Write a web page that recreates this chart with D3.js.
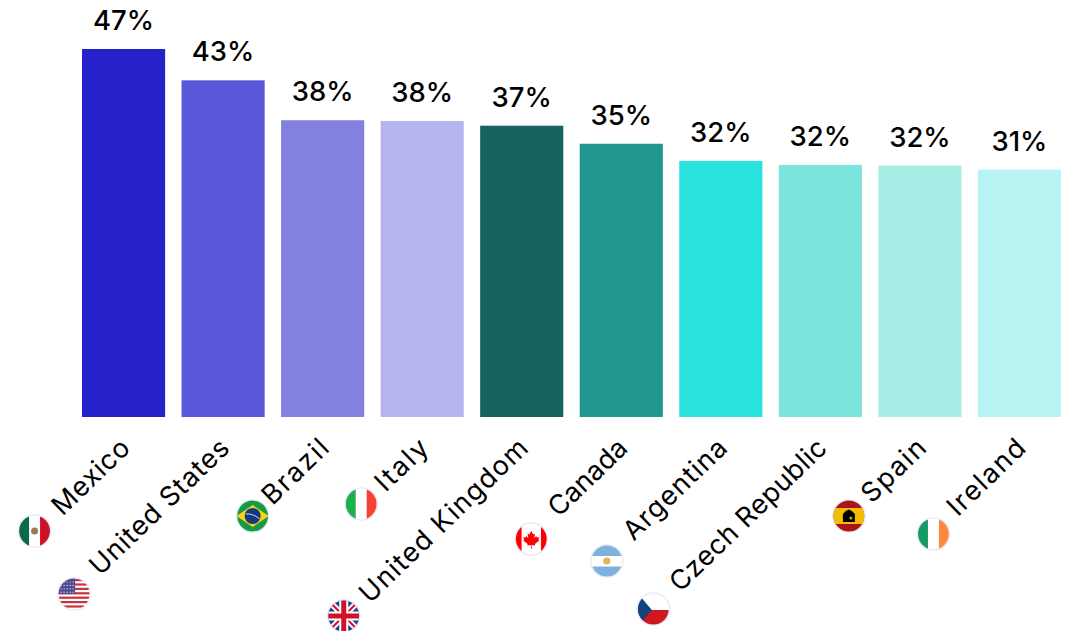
<!DOCTYPE html>
<html><head><meta charset="utf-8">
<script src="https://cdn.jsdelivr.net/npm/d3@7"></script>
<style>html,body{margin:0;padding:0;background:#fff}svg{display:block}text{font-family:Inter,"DejaVu Sans",sans-serif;fill:#000}</style>
</head><body><svg id="c" width="1068" height="631"></svg>
<script>
const countries = ["Mexico","United States","Brazil","Italy","United Kingdom","Canada","Argentina","Czech Republic","Spain","Ireland"];
const values = [47,43,37.9,37.8,37.2,34.9,32.7,32.2,32.1,31.6];
const valueLabels = ["47%","43%","38%","38%","37%","35%","32%","32%","32%","31%"];
const colors = ["#2522cc","#5757d8","#8380e0","#b5b4ee","#14635e","#209890","#2ae2de","#7ce4dc","#a8ece6","#b8f4f4"];
// Layout: flag-centre offset from each bar's centre, and the label's rendered length
const flagDx = [-89,-149,-70,-61,-178,-90,-114,-167,-71,-86];
const flagDy = [114,177,99,87,199,122,144,192,99,117];
const labelLen = [96,182,81,62,222,98,132,206,78,97];

const svg = d3.select("#c");
const x = d3.scaleBand().domain(countries).range([82,1061]).paddingInner(0.165).paddingOuter(0);
const y = d3.scaleLinear().domain([0,47]).range([417,49]);
const defs = svg.append("defs");
defs.append("clipPath").attr("id","flagClip").append("circle").attr("r",15.4);

svg.selectAll("rect.bar").data(countries).join("rect").attr("class","bar")
  .attr("x",d=>x(d)).attr("width",x.bandwidth())
  .attr("y",(d,i)=>y(values[i])).attr("height",(d,i)=>y(0)-y(values[i]))
  .attr("fill",(d,i)=>colors[i]);

svg.selectAll("text.val").data(countries).join("text").attr("class","val")
  .attr("x",d=>x(d)+x.bandwidth()/2).attr("y",(d,i)=>y(values[i])-19)
  .attr("text-anchor","middle").attr("font-size",27.5).attr("font-weight",500)
  .text((d,i)=>valueLabels[i]);

svg.selectAll("text.cat").data(countries).join("text").attr("class","cat")
  .attr("text-anchor","end").attr("font-size",27).attr("font-weight",400)
  .attr("textLength",(d,i)=>labelLen[i]).attr("lengthAdjust","spacing")
  .attr("transform",d=>`translate(${x(d)+x.bandwidth()/2+8},${450}) rotate(-44)`)
  .text(d=>d);

function rect(g,a,b,w,h,f){g.append("rect").attr("x",a).attr("y",b).attr("width",w).attr("height",h).attr("fill",f);}
function poly(g,p,f){g.append("polygon").attr("points",p).attr("fill",f);}
const draw = {
  "Mexico":g=>{rect(g,-16,-16,10.5,32,"#0b6b47");rect(g,5.5,-16,10.5,32,"#ce1126");g.append("circle").attr("r",3.5).attr("fill","#9a7a50");},
  "United States":g=>{rect(g,-16,-16,32,32,"#fff");d3.range(7).forEach(i=>rect(g,-16,-15+i*4.4,32,2.2,"#c8313f"));rect(g,-16,-16,17,16,"#4a4a8f");
    d3.range(4).forEach(r=>d3.range(5).forEach(c=>g.append("circle").attr("cx",-13+c*3).attr("cy",-12+r*3.4).attr("r",.6).attr("fill","#fff")));},
  "Brazil":g=>{rect(g,-16,-16,32,32,"#169b45");poly(g,"-16,0 0,-11 16,0 0,11","#fcd116");g.append("circle").attr("r",8).attr("fill","#14397f");g.append("path").attr("d","M-7,-2Q0,-3 7,3").attr("fill","none").attr("stroke","#cfe0d6").attr("stroke-width",1);},
  "Italy":g=>{rect(g,-16,-16,10.5,32,"#1eb04a");rect(g,5.5,-16,10.5,32,"#f44336");},
  "United Kingdom":g=>{rect(g,-16,-16,32,32,"#1b3f8b");
    g.append("path").attr("d","M-16,-16L16,16M16,-16L-16,16").attr("stroke","#fff").attr("stroke-width",6);
    g.append("path").attr("d","M-16,-16L16,16M16,-16L-16,16").attr("stroke","#d0112b").attr("stroke-width",2);
    rect(g,-16,-4.5,32,9,"#fff");rect(g,-4.5,-16,9,32,"#fff");rect(g,-16,-2.5,32,5,"#d0112b");rect(g,-2.5,-16,5,32,"#d0112b");},
  "Canada":g=>{rect(g,-16,-16,6.3,32,"#f00");rect(g,9.7,-16,6.3,32,"#f00");
    g.append("path").attr("d","M0,-8L2,-4.5L3.8,-5.5L3,-1L5,-3L5.6,-1.4L8,-1.8L7.2,1L8,1.6L3.6,5L4,6.4L.4,6L.4,10H-.4V6L-4,6.4L-3.6,5L-8,1.6L-7.2,1L-8,-1.8L-5.6,-1.4L-5,-3L-3,-1L-3.8,-5.5L-2,-4.5Z").attr("fill","#f00");},
  "Argentina":g=>{rect(g,-16,-16,32,11,"#7fb0de");rect(g,-16,5.5,32,11,"#7fb0de");g.append("circle").attr("r",3.6).attr("fill","#e8b35f");},
  "Czech Republic":g=>{rect(g,-16,1,32,16,"#d0161e");poly(g,"-16,-16 -1.5,1 -16,17","#12457e");},
  "Spain":g=>{rect(g,-16,-16,32,32,"#aa151b");rect(g,-16,-8,32,16,"#f1bf00");
    g.append("path").attr("d","M-6,6V-2L-3,-5L0,-6.5L3,-5L6,-2V6Z").attr("fill","#000");g.append("circle").attr("cx",2).attr("cy",2).attr("r",1.6).attr("fill","#c8a200");},
  "Ireland":g=>{rect(g,-16,-16,10.5,32,"#169b62");rect(g,5.5,-16,10.5,32,"#ff883e");}
};
const flags = svg.selectAll("g.flag").data(countries).join("g").attr("class","flag")
  .attr("transform",(d,i)=>`translate(${x(d)+x.bandwidth()/2+flagDx[i]},${y(0)+flagDy[i]})`);
flags.each(function(d){
  const s=d3.select(this);
  s.append("circle").attr("r",16.2).attr("fill","#fff").attr("stroke","#e9e9f5").attr("stroke-width",1.2);
  const inner=s.append("g").attr("clip-path","url(#flagClip)");
  draw[d](inner);
});
</script></body></html>
